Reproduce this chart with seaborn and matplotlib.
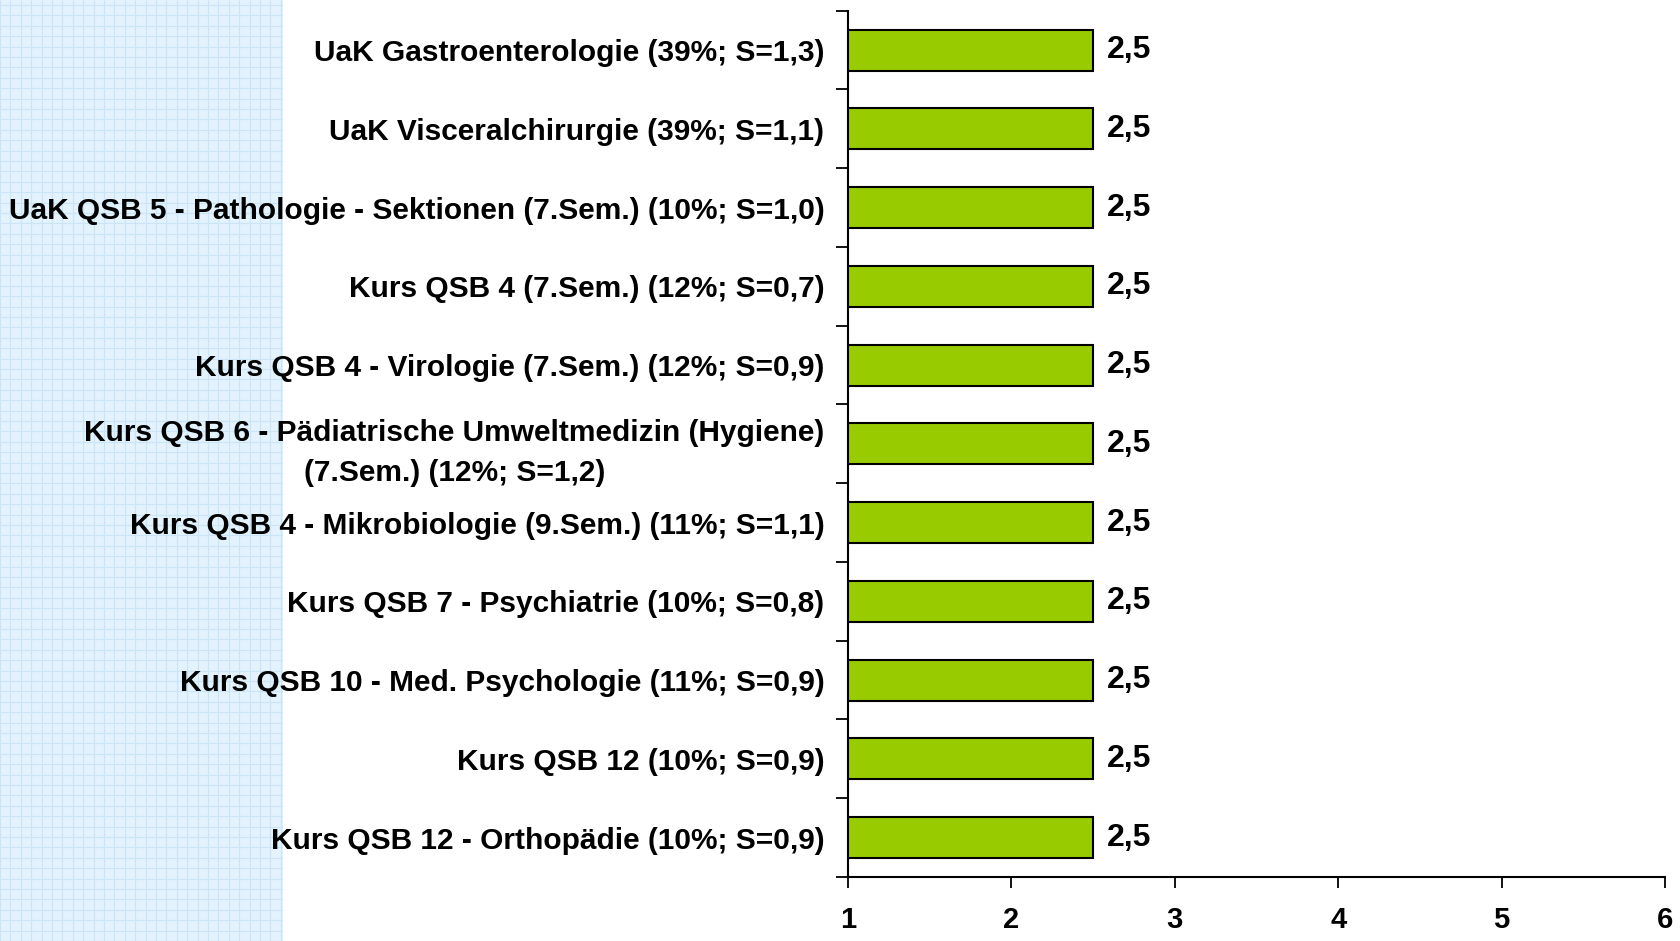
import seaborn as sns
import matplotlib.pyplot as plt
import numpy as np

# data
categories = [
    "UaK Gastroenterologie (39%; S=1,3)",
    "UaK Visceralchirurgie (39%; S=1,1)",
    "UaK QSB 5 - Pathologie - Sektionen (7.Sem.) (10%; S=1,0)",
    "Kurs QSB 4 (7.Sem.) (12%; S=0,7)",
    "Kurs QSB 4 - Virologie (7.Sem.) (12%; S=0,9)",
    "Kurs QSB 6 - Pädiatrische Umweltmedizin (Hygiene)\n(7.Sem.) (12%; S=1,2)",
    "Kurs QSB 4 - Mikrobiologie (9.Sem.) (11%; S=1,1)",
    "Kurs QSB 7 - Psychiatrie (10%; S=0,8)",
    "Kurs QSB 10 - Med. Psychologie (11%; S=0,9)",
    "Kurs QSB 12 (10%; S=0,9)",
    "Kurs QSB 12 - Orthopädie (10%; S=0,9)",
]
values = [2.5, 2.5, 2.5, 2.5, 2.5, 2.5, 2.5, 2.5, 2.5, 2.5, 2.5]
x_ticks = [1, 2, 3, 4, 5, 6]

sns.set_theme(style="white")
plt.rcParams['font.family'] = ['Liberation Sans', 'DejaVu Sans']
plt.rcParams['font.weight'] = 'bold'
plt.rcParams['text.color'] = 'black'
plt.rcParams['xtick.color'] = 'black'
plt.rcParams['ytick.color'] = 'black'

W, H = 1681, 941
fig = plt.figure(figsize=(W / 100, H / 100), dpi=100)

# light blue grid paper strip on the left
bg = fig.add_axes([0, 0, 283 / W, 1], zorder=0)
bg.set_facecolor('#E3F2FD')
bg.set_xlim(0, 283)
bg.set_ylim(0, H)
bg.set_xticks(np.arange(0, 283, 10.4))
bg.set_yticks(np.arange(0, H, 10.4))
bg.grid(True, color='#CBE5F8', linewidth=0.8)
bg.tick_params(length=0, labelbottom=False, labelleft=False)
for s in bg.spines.values():
    s.set_visible(False)

ax = fig.add_axes([848 / W, 1 - 877 / H, (1665 - 848) / W, (877 - 10.7) / H], zorder=1)
ax.patch.set_alpha(0)

sns.barplot(x=values, y=categories, orient='h', color='#99CC00',
            edgecolor='black', linewidth=1.5, width=0.52, saturation=1, ax=ax)

ax.bar_label(ax.containers[0], labels=[f"{v:.1f}".replace('.', ',') for v in values],
             padding=10, fontsize=23, fontweight='bold')

ax.set_xlim(1, 6)
ax.set_ylim(len(categories) - 0.5, -0.5)
ax.set_xticks(x_ticks)
ax.set_xticklabels([str(t) for t in x_ticks], fontsize=21, fontweight='bold')
ax.set_yticks(range(len(categories)))
ax.set_yticklabels(categories, fontsize=21.5, fontweight='bold',
                   multialignment='center', linespacing=1.55)
ax.set_yticks(np.arange(-0.5, len(categories), 1), minor=True)
ax.tick_params(axis='y', which='major', length=0, pad=17)
ax.tick_params(axis='y', which='minor', length=9, width=1.3, direction='out', color='black', left=True)
ax.tick_params(axis='x', which='major', length=8, width=1.3, direction='out', color='black',
               bottom=True, pad=13)
ax.set_xlabel('')
ax.set_ylabel('')

for side in ['top', 'right']:
    ax.spines[side].set_visible(False)
for side in ['left', 'bottom']:
    ax.spines[side].set_color('black')
    ax.spines[side].set_linewidth(1.5)

fig.savefig('out.png', dpi=100)
